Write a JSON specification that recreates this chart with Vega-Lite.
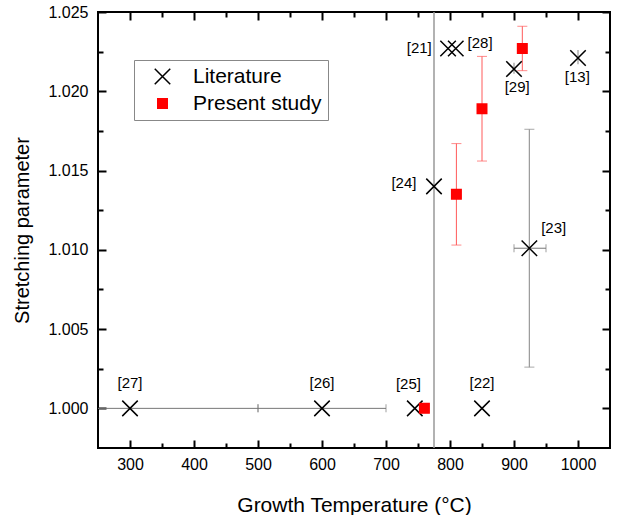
{
  "$schema": "https://vega.github.io/schema/vega-lite/v6.json",
  "width": 512,
  "height": 436,
  "autosize": {"type": "none"},
  "padding": {"left": 98, "top": 12, "right": 9, "bottom": 67},
  "background": "white",
  "config": {
    "font": "Liberation Sans",
    "view": {"stroke": "black", "strokeWidth": 2},
    "axis": {"grid": false, "domain": false, "tickColor": "black", "labelColor": "black", "titleColor": "black", "labelFont": "Liberation Sans", "titleFont": "Liberation Sans", "titleFontWeight": "normal"}
  },
  "datasets": {
    "points": [
      {"series": "Literature", "t": 300, "s": 1.0},
      {"series": "Literature", "t": 600, "s": 1.0},
      {"series": "Literature", "t": 745, "s": 1.0},
      {"series": "Literature", "t": 850, "s": 1.0},
      {"series": "Literature", "t": 775, "s": 1.014},
      {"series": "Literature", "t": 924, "s": 1.0101},
      {"series": "Literature", "t": 797, "s": 1.0227},
      {"series": "Literature", "t": 809, "s": 1.0227},
      {"series": "Literature", "t": 900, "s": 1.0214},
      {"series": "Literature", "t": 1000, "s": 1.0221},
      {"series": "Present study", "t": 760, "s": 1.0},
      {"series": "Present study", "t": 810, "s": 1.0135},
      {"series": "Present study", "t": 850, "s": 1.0189},
      {"series": "Present study", "t": 913, "s": 1.0227}
    ],
    "xerr": [
      {"ref": "[27]", "s": 1.0, "lo": 100, "hi": 500},
      {"ref": "[26]", "s": 1.0, "lo": 500, "hi": 700},
      {"ref": "[23]", "s": 1.0101, "lo": 900, "hi": 950}
    ],
    "yerr": [
      {"ref": "[23]", "t": 924, "lo": 1.0026, "hi": 1.0176, "cap": true},
      {"ref": "[29]", "t": 900, "lo": 1.0211, "hi": 1.0218, "cap": false},
      {"ref": "[13]", "t": 1000, "lo": 1.0217, "hi": 1.0226, "cap": false}
    ],
    "rerr": [
      {"t": 810, "lo": 1.0103, "hi": 1.0167},
      {"t": 850, "lo": 1.0156, "hi": 1.0222},
      {"t": 913, "lo": 1.0213, "hi": 1.0241}
    ],
    "labels": [
      {"ref": "[27]", "t": 300, "s": 1.0016},
      {"ref": "[26]", "t": 600, "s": 1.0016},
      {"ref": "[25]", "t": 735, "s": 1.00155},
      {"ref": "[22]", "t": 850, "s": 1.0016},
      {"ref": "[24]", "t": 728, "s": 1.01421},
      {"ref": "[23]", "t": 962, "s": 1.01139},
      {"ref": "[21]", "t": 752, "s": 1.02273},
      {"ref": "[28]", "t": 847, "s": 1.02306},
      {"ref": "[29]", "t": 905, "s": 1.02028},
      {"ref": "[13]", "t": 999, "s": 1.02088}
    ]
  },
  "resolve": {"axis": {"x": "independent", "y": "independent"}},
  "layer": [
    {
      "data": {"name": "points"},
      "mark": {"type": "point", "opacity": 0},
      "encoding": {
        "x": {"field": "t", "type": "quantitative", "scale": {"domain": [250, 1050], "nice": false, "zero": false},
          "axis": {"orient": "bottom", "values": [300, 400, 500, 600, 700, 800, 900, 1000], "format": "d", "title": "Growth Temperature (°C)", "tickSize": -8, "tickWidth": 2, "tickColor": "black", "labelFontSize": 16, "labelPadding": 16, "titleFontSize": 21, "titlePadding": 22, "labelFlush": false, "labelOverlap": false}},
        "y": {"field": "s", "type": "quantitative", "scale": {"domain": [0.9975, 1.025], "nice": false, "zero": false},
          "axis": {"orient": "left", "values": [1.0, 1.005, 1.01, 1.015, 1.02, 1.025], "format": ".3f", "title": "Stretching parameter", "tickSize": -8, "tickWidth": 2, "tickColor": "black", "labelFontSize": 16, "labelPadding": 18, "titleFontSize": 20, "titlePadding": 15, "labelFlush": false, "labelOverlap": false}}
      }
    },
    {
      "data": {"name": "points"},
      "mark": {"type": "point", "opacity": 0},
      "encoding": {
        "x": {"field": "t", "type": "quantitative", "scale": {"domain": [250, 1050], "nice": false, "zero": false},
          "axis": {"orient": "bottom", "values": [350, 450, 550, 650, 750, 850, 950], "labels": false, "title": null, "tickSize": 5, "tickWidth": 2, "tickColor": "black", "offset": -5}},
        "y": {"field": "s", "type": "quantitative", "scale": {"domain": [0.9975, 1.025], "nice": false, "zero": false},
          "axis": {"orient": "left", "values": [1.0025, 1.0075, 1.0125, 1.0175, 1.0225], "labels": false, "title": null, "tickSize": 5, "tickWidth": 2, "tickColor": "black", "offset": -5}}
      }
    },
    {
      "data": {"name": "points"},
      "mark": {"type": "point", "opacity": 0},
      "encoding": {
        "x": {"field": "t", "type": "quantitative", "scale": {"domain": [250, 1050], "nice": false, "zero": false},
          "axis": {"orient": "top", "values": [300, 400, 500, 600, 700, 800, 900, 1000], "labels": false, "title": null, "tickSize": 8, "tickWidth": 2, "tickColor": "black", "offset": -8}},
        "y": {"field": "s", "type": "quantitative", "scale": {"domain": [0.9975, 1.025], "nice": false, "zero": false},
          "axis": {"orient": "right", "values": [1.0, 1.005, 1.01, 1.015, 1.02, 1.025], "labels": false, "title": null, "tickSize": 8, "tickWidth": 2, "tickColor": "black", "offset": -8}}
      }
    },
    {
      "data": {"name": "points"},
      "mark": {"type": "point", "opacity": 0},
      "encoding": {
        "x": {"field": "t", "type": "quantitative", "scale": {"domain": [250, 1050], "nice": false, "zero": false},
          "axis": {"orient": "top", "values": [350, 450, 550, 650, 750, 850, 950], "labels": false, "title": null, "tickSize": 5, "tickWidth": 2, "tickColor": "black", "offset": -5}},
        "y": {"field": "s", "type": "quantitative", "scale": {"domain": [0.9975, 1.025], "nice": false, "zero": false},
          "axis": {"orient": "right", "values": [1.0025, 1.0075, 1.0125, 1.0175, 1.0225], "labels": false, "title": null, "tickSize": 5, "tickWidth": 2, "tickColor": "black", "offset": -5}}
      }
    },
    {
      "data": {"values": [{"t": 775}]},
      "mark": {"type": "rule", "color": "#999999", "strokeWidth": 1.5},
      "encoding": {
        "x": {"field": "t", "type": "quantitative", "axis": null}
      }
    },
    {
      "data": {"name": "xerr"},
      "mark": {"type": "rule", "color": "#777777", "strokeWidth": 1, "clip": true},
      "encoding": {
        "x": {"field": "lo", "type": "quantitative", "axis": null},
        "x2": {"field": "hi"},
        "y": {"field": "s", "type": "quantitative", "axis": null}
      }
    },
    {
      "data": {"name": "xerr"},
      "transform": [{"fold": ["lo", "hi"], "as": ["end", "v"]}],
      "mark": {"type": "tick", "orient": "vertical", "color": "#777777", "size": 8, "thickness": 1, "clip": true},
      "encoding": {
        "x": {"field": "v", "type": "quantitative", "axis": null},
        "y": {"field": "s", "type": "quantitative", "axis": null}
      }
    },
    {
      "data": {"name": "yerr"},
      "mark": {"type": "rule", "color": "#999999", "strokeWidth": 1.2},
      "encoding": {
        "x": {"field": "t", "type": "quantitative", "axis": null},
        "y": {"field": "lo", "type": "quantitative", "axis": null},
        "y2": {"field": "hi"}
      }
    },
    {
      "data": {"name": "yerr"},
      "transform": [{"filter": "datum.cap"}, {"fold": ["lo", "hi"], "as": ["end", "v"]}],
      "mark": {"type": "tick", "orient": "horizontal", "color": "#999999", "size": 10, "thickness": 1.2},
      "encoding": {
        "x": {"field": "t", "type": "quantitative", "axis": null},
        "y": {"field": "v", "type": "quantitative", "axis": null}
      }
    },
    {
      "data": {"name": "rerr"},
      "mark": {"type": "rule", "color": "#ff5a5a", "strokeWidth": 1},
      "encoding": {
        "x": {"field": "t", "type": "quantitative", "axis": null},
        "y": {"field": "lo", "type": "quantitative", "axis": null},
        "y2": {"field": "hi"}
      }
    },
    {
      "data": {"name": "rerr"},
      "transform": [{"fold": ["lo", "hi"], "as": ["end", "v"]}],
      "mark": {"type": "tick", "orient": "horizontal", "color": "#ff5a5a", "size": 10, "thickness": 1},
      "encoding": {
        "x": {"field": "t", "type": "quantitative", "axis": null},
        "y": {"field": "v", "type": "quantitative", "axis": null}
      }
    },
    {
      "data": {"name": "points"},
      "mark": {"type": "point", "opacity": 1, "strokeWidth": 1.5},
      "encoding": {
        "x": {"field": "t", "type": "quantitative", "axis": null},
        "y": {"field": "s", "type": "quantitative", "axis": null},
        "shape": {"field": "series", "type": "nominal", "scale": {"domain": ["Literature", "Present study"], "range": ["M-1,-1L1,1M-1,1L1,-1", "square"]},
          "legend": {"title": null, "orient": "none", "legendX": 36, "legendY": 48, "strokeColor": "#888888", "fillColor": "white", "padding": 6, "symbolOffset": 12, "labelOffset": 20, "labelFontSize": 21, "labelFont": "Liberation Sans", "labelColor": "black", "rowPadding": 4, "symbolStrokeWidth": 1.5}},
        "fill": {"field": "series", "type": "nominal", "scale": {"domain": ["Literature", "Present study"], "range": ["transparent", "#ff0000"]}, "legend": {"title": null}},
        "stroke": {"field": "series", "type": "nominal", "scale": {"domain": ["Literature", "Present study"], "range": ["#000000", "#ff0000"]}, "legend": {"title": null}},
        "size": {"field": "series", "type": "nominal", "scale": {"domain": ["Literature", "Present study"], "range": [240, 90]}, "legend": {"title": null}}
      }
    },
    {
      "data": {"name": "labels"},
      "mark": {"type": "text", "fontSize": 15, "font": "Liberation Sans", "color": "black", "align": "center", "baseline": "middle"},
      "encoding": {
        "x": {"field": "t", "type": "quantitative", "axis": null},
        "y": {"field": "s", "type": "quantitative", "axis": null},
        "text": {"field": "ref", "type": "nominal"}
      }
    }
  ]
}
